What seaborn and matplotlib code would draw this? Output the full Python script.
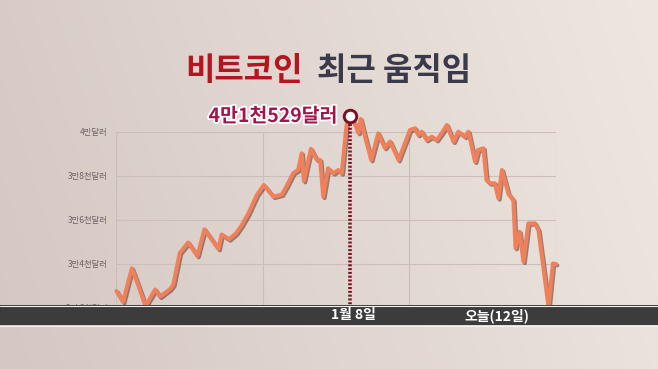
import numpy as np
import pandas as pd
import matplotlib
matplotlib.use("Agg")
import matplotlib.pyplot as plt
import matplotlib.patheffects as pe
from matplotlib.patches import Rectangle
from matplotlib.lines import Line2D
import seaborn as sns

# ---- data ----
t = [0.1, 1.6, 3.6, 5.1, 6.7, 8.9, 10.0, 12.3, 13.0, 14.5, 16.4, 18.5, 20.1, 23.3,
     24.0, 25.7, 27.3, 28.6, 30.1, 32.0, 33.6, 35.8, 37.7, 38.8, 40.3, 41.4, 42.2,
     42.7, 44.3, 45.6, 46.4, 47.1, 48.2, 49.4, 50.5, 51.3, 52.4, 53.2, 54.3, 55.1,
     55.6, 56.2, 58.0, 59.6, 61.1, 62.3, 64.2, 66.1, 66.8, 68.0, 68.7, 69.5, 70.6,
     71.8, 72.9, 74.0, 75.2, 76.7, 77.8, 79.3, 80.1, 81.6, 82.3, 83.5, 84.2, 85.0,
     86.1, 86.9, 87.7, 89.2, 90.3, 90.8, 91.7, 92.6, 93.7, 95.2, 96.0, 98.3, 99.3, 100.0]
price = [32773, 32273, 33805, 33000, 32091, 32841, 32514, 32864, 33045, 34500,
         34977, 34364, 35577, 34682, 35341, 35123, 35395, 35773, 36305, 37136,
         37591, 37059, 37159, 37545, 38136, 38273, 39032, 37773, 39236, 38750,
         38727, 37059, 38350, 38123, 38273, 38123, 40318, 40705, 40364, 39955,
         40591, 40091, 38727, 39941, 39273, 39568, 38727, 39714, 40091, 40168,
         39864, 40014, 39636, 39786, 39636, 39941, 40318, 39559, 40014, 39786,
         40014, 38650, 39182, 39259, 37818, 37668, 37668, 36986, 38273, 37182,
         36909, 34727, 35468, 34105, 35841, 35850, 35545, 32059, 34023, 34000]
y_ticks = [32000, 34000, 36000, 38000, 40000]
y_tick_labels = ["3만 2천달러", "3만4천달러", "3만6천달러", "3만8천달러", "4만달러"]
x_grid = [0, 33.3, 66.7, 100]
peak_label = "4만1천529달러"
date_labels = ["1월 8일", "오늘(12일)"]
title_red = "비트코인"
title_dark = "최근 움직임"

df = pd.DataFrame({"t": t, "price": price})

sns.set_theme(style="white")
plt.rcParams["font.family"] = ["Noto Sans CJK KR", "DejaVu Sans"]

W, H = 658, 369
fig = plt.figure(figsize=(W / 100, H / 100), dpi=100)

# background gradient
bg = fig.add_axes([0, 0, 1, 1], zorder=-10)
gx = np.linspace(0, 1, 300)
gy = np.linspace(0, 1, 200)
GX, GY = np.meshgrid(gx, gy)
left_c = np.array([0xd5, 0xc7, 0xc3]) / 255
right_c = np.array([0xee, 0xe7, 0xe0]) / 255
w = np.clip(GX * 0.85 + (1 - GY) * 0.15, 0, 1)[..., None]
img = left_c * (1 - w) + right_c * w
bg.imshow(img, aspect="auto", extent=[0, 1, 0, 1])
bg.set_axis_off()

# main axes
ax = fig.add_axes([116 / W, (H - 308) / H, 440 / W, 176 / H])
ax.set_facecolor("none")
ax.set_xlim(0, 100)
ax.set_ylim(32000, 40000)
ax.set_yticks(y_ticks)
ax.set_yticklabels(y_tick_labels, fontsize=6, color="#6e6464")
ax.set_xticks(x_grid)
ax.set_xticklabels([])
ax.tick_params(axis="both", length=0, pad=6)
ax.grid(True, color="#cbbfbb", lw=0.8)
for s in ax.spines.values():
    s.set_visible(False)

sns.lineplot(data=df, x="t", y="price", ax=ax, sort=False, color="#f0805a",
             lw=2.9, clip_on=False, zorder=3,
             path_effects=[pe.SimpleLineShadow(offset=(1.0, -1.0), shadow_color="#5a2e22", alpha=0.55),
                           pe.Normal()])
ax.set_xlabel("")
ax.set_ylabel("")

# peak marker
i_pk = int(np.argmax(price))
ax.vlines(t[i_pk], 32000, price[i_pk], colors="#7a1020", lw=2.6,
          linestyles=(0, (0.55, 0.5)), clip_on=False, zorder=4)
ax.plot([t[i_pk]], [price[i_pk]], marker="o", ms=9, mfc="white", mec="#7a1020",
        mew=2.1, clip_on=False, zorder=5)
ax.annotate(peak_label, (t[i_pk], price[i_pk]), xytext=(-9, 0), textcoords="offset points",
            ha="right", va="center", fontsize=14, fontweight="heavy", color="#a0164a",
            path_effects=[pe.withStroke(linewidth=2.5, foreground="white")], zorder=6,
            annotation_clip=False)

# bottom band
band = Rectangle((0, (H - 325) / H), 1, 20 / H, transform=fig.transFigure,
                 facecolor="#3c3c3c", edgecolor="none", zorder=20)
fig.add_artist(band)
for yy in (305.5, 325.5):
    fig.add_artist(Line2D([0, 1], [(H - yy) / H] * 2, transform=fig.transFigure,
                          color="#f4f0ec", lw=0.8, zorder=21))
fig.text(353 / W, (H - 315.5) / H, date_labels[0], ha="center", va="center",
         color="white", fontsize=10, fontweight="heavy", zorder=22)
fig.text(497 / W, (H - 315.5) / H, date_labels[1], ha="center", va="center",
         color="white", fontsize=10, fontweight="heavy", zorder=22)

# title
fig.text(303 / W, (H - 71) / H, title_red, ha="right", va="center",
         color="#b3161f", fontsize=23, fontweight="black")
fig.text(317 / W, (H - 71) / H, title_dark, ha="left", va="center",
         color="#3b3a4a", fontsize=23, fontweight="black")

fig.savefig("out.png", dpi=100)
